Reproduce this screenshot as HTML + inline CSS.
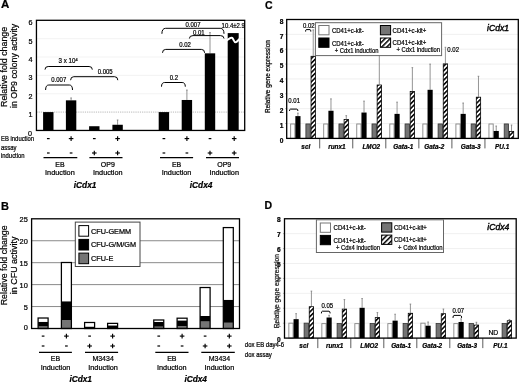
<!DOCTYPE html>
<html><head><meta charset="utf-8"><style>
html,body{margin:0;padding:0;background:#fff;}
svg{display:block;font-family:"Liberation Sans", sans-serif;filter:grayscale(1) blur(0.28px);}
</style></head><body>
<svg width="520" height="385" viewBox="0 0 520 385">
<defs>
<pattern id="hatch" patternUnits="userSpaceOnUse" width="3.3" height="3.3" patternTransform="rotate(45)">
<rect width="3.3" height="3.3" fill="#fff"/><rect width="1.55" height="3.3" fill="#000"/></pattern>
<pattern id="hatch2" patternUnits="userSpaceOnUse" width="3.6" height="3.6" patternTransform="rotate(45)">
<rect width="3.6" height="3.6" fill="#fff"/><rect width="1.5" height="3.6" fill="#000"/></pattern>
</defs>
<rect width="520" height="385" fill="#fff"/>
<text x="1.00" y="8.10" font-size="11.5" text-anchor="start" font-weight="bold" font-style="normal" fill="#000" stroke="#000" stroke-width="0.22" >A</text>
<line x1="36.45" y1="93.73" x2="244.70" y2="93.73" stroke="#f0f0f0" stroke-width="0.8" />
<line x1="36.45" y1="75.38" x2="244.70" y2="75.38" stroke="#f0f0f0" stroke-width="0.8" />
<line x1="36.45" y1="57.02" x2="244.70" y2="57.02" stroke="#f0f0f0" stroke-width="0.8" />
<line x1="36.45" y1="38.66" x2="244.70" y2="38.66" stroke="#f0f0f0" stroke-width="0.8" />
<line x1="36.45" y1="112.09" x2="244.70" y2="112.09" stroke="#999" stroke-width="0.7" stroke-dasharray="1.2,1"/>
<text x="30.10" y="136.05" font-size="7.2" text-anchor="middle" font-weight="normal" font-style="normal" fill="#000" stroke="#000" stroke-width="0.22" >0</text>
<text x="30.50" y="117.09" font-size="7.2" text-anchor="middle" font-weight="normal" font-style="normal" fill="#000" stroke="#000" stroke-width="0.22" >1</text>
<text x="30.50" y="98.73" font-size="7.2" text-anchor="middle" font-weight="normal" font-style="normal" fill="#000" stroke="#000" stroke-width="0.22" >2</text>
<text x="30.50" y="80.38" font-size="7.2" text-anchor="middle" font-weight="normal" font-style="normal" fill="#000" stroke="#000" stroke-width="0.22" >3</text>
<text x="30.50" y="62.02" font-size="7.2" text-anchor="middle" font-weight="normal" font-style="normal" fill="#000" stroke="#000" stroke-width="0.22" >4</text>
<text x="30.50" y="43.66" font-size="7.2" text-anchor="middle" font-weight="normal" font-style="normal" fill="#000" stroke="#000" stroke-width="0.22" >5</text>
<text x="30.50" y="25.30" font-size="7.2" text-anchor="middle" font-weight="normal" font-style="normal" fill="#000" stroke="#000" stroke-width="0.22" >6</text>
<rect x="43.10" y="112.09" width="10.40" height="18.36" fill="#000" stroke="none" stroke-width="0" />
<line x1="71.10" y1="97.96" x2="71.10" y2="100.34" stroke="#777" stroke-width="0.8" />
<line x1="70.30" y1="97.96" x2="71.90" y2="97.96" stroke="#777" stroke-width="0.8" />
<rect x="65.90" y="100.34" width="10.40" height="30.11" fill="#000" stroke="none" stroke-width="0" />
<rect x="89.10" y="126.23" width="10.40" height="4.22" fill="#000" stroke="none" stroke-width="0" />
<line x1="117.60" y1="119.99" x2="117.60" y2="124.76" stroke="#777" stroke-width="0.8" />
<line x1="116.80" y1="119.99" x2="118.40" y2="119.99" stroke="#777" stroke-width="0.8" />
<rect x="112.40" y="124.76" width="10.40" height="5.69" fill="#000" stroke="none" stroke-width="0" />
<rect x="158.70" y="112.09" width="10.40" height="18.36" fill="#000" stroke="none" stroke-width="0" />
<line x1="186.90" y1="90.06" x2="186.90" y2="99.98" stroke="#777" stroke-width="0.8" />
<line x1="186.10" y1="90.06" x2="187.70" y2="90.06" stroke="#777" stroke-width="0.8" />
<rect x="181.70" y="99.98" width="10.40" height="30.47" fill="#000" stroke="none" stroke-width="0" />
<line x1="210.00" y1="32.60" x2="210.00" y2="53.34" stroke="#777" stroke-width="0.8" />
<line x1="209.20" y1="32.60" x2="210.80" y2="32.60" stroke="#777" stroke-width="0.8" />
<rect x="204.80" y="53.34" width="10.40" height="77.10" fill="#000" stroke="none" stroke-width="0" />
<rect x="227.70" y="33.10" width="11.00" height="97.35" fill="#000" stroke="none" stroke-width="0" />
<path d="M226.8,40.6 C229,38.8 230.6,36.8 232.2,37.9 C233.6,38.9 234,42.4 235.6,42.3 C237,42.2 238,40.2 239.7,38.8" stroke="#fff" stroke-width="2.0" fill="none" />
<rect x="36.45" y="20.30" width="208.25" height="110.15" fill="none" stroke="#000" stroke-width="1.3" />
<path d="M45.00,69.60 Q45.00,66.50 48.20,66.50 L89.10,66.50 Q92.30,66.50 92.30,69.60" stroke="#000" stroke-width="1.0" fill="none" />
<text x="58.60" y="62.50" font-size="6.9" text-anchor="start" font-weight="normal" font-style="normal" fill="#000" stroke="#000" stroke-width="0.22"  textLength="19.0" lengthAdjust="spacingAndGlyphs">3 x 10<tspan dy="-1.3" font-size="4.4">4</tspan></text>
<path d="M45.60,90.00 Q45.60,85.00 48.80,85.00 L69.30,85.00 Q72.50,85.00 72.50,90.00" stroke="#000" stroke-width="1.0" fill="none" />
<text x="58.80" y="81.60" font-size="7.2" text-anchor="middle" font-weight="normal" font-style="normal" fill="#000" stroke="#000" stroke-width="0.22"  textLength="15.02" lengthAdjust="spacingAndGlyphs">0.007</text>
<path d="M70.60,80.20 Q70.60,76.70 73.80,76.70 L114.60,76.70 Q117.80,76.70 117.80,80.20" stroke="#000" stroke-width="1.0" fill="none" />
<text x="105.20" y="73.60" font-size="7.2" text-anchor="middle" font-weight="normal" font-style="normal" fill="#000" stroke="#000" stroke-width="0.22"  textLength="15.02" lengthAdjust="spacingAndGlyphs">0.005</text>
<path d="M161.50,86.70 Q161.50,82.50 164.70,82.50 L182.10,82.50 Q185.30,82.50 185.30,86.70" stroke="#000" stroke-width="1.0" fill="none" />
<text x="173.80" y="79.80" font-size="7.2" text-anchor="middle" font-weight="normal" font-style="normal" fill="#000" stroke="#000" stroke-width="0.22"  textLength="8.34" lengthAdjust="spacingAndGlyphs">0.2</text>
<path d="M162.50,52.80 Q162.50,49.40 165.70,49.40 L201.40,49.40 Q204.60,49.40 204.60,52.80" stroke="#000" stroke-width="1.0" fill="none" />
<text x="185.00" y="47.30" font-size="7.2" text-anchor="middle" font-weight="normal" font-style="normal" fill="#000" stroke="#000" stroke-width="0.22"  textLength="11.68" lengthAdjust="spacingAndGlyphs">0.02</text>
<path d="M161.90,33.80 Q161.90,28.30 165.70,28.30 L220.20,28.30 Q224.00,28.30 224.00,33.80" stroke="#000" stroke-width="1.0" fill="none" />
<text x="193.00" y="26.60" font-size="7.2" text-anchor="middle" font-weight="normal" font-style="normal" fill="#000" stroke="#000" stroke-width="0.22"  textLength="15.02" lengthAdjust="spacingAndGlyphs">0.007</text>
<path d="M189.40,38.50 Q189.40,35.60 193.00,35.60 L220.40,35.60 Q224.00,35.60 224.00,38.50" stroke="#000" stroke-width="1.0" fill="none" />
<text x="198.80" y="35.00" font-size="7.2" text-anchor="middle" font-weight="normal" font-style="normal" fill="#000" stroke="#000" stroke-width="0.22"  textLength="11.68" lengthAdjust="spacingAndGlyphs">0.01</text>
<text x="221.60" y="27.60" font-size="6.9" text-anchor="start" font-weight="normal" font-style="normal" fill="#000" stroke="#000" stroke-width="0.22"  textLength="23.31" lengthAdjust="spacingAndGlyphs">10.4±2.9</text>
<text transform="translate(7.10,66.90) rotate(-90)" x="0" y="0" font-size="9.8" text-anchor="middle" font-weight="normal" fill="#000" stroke="#000" stroke-width="0.22"  textLength="80.2" lengthAdjust="spacingAndGlyphs">Relative fold change</text>
<text transform="translate(17.30,65.90) rotate(-90)" x="0" y="0" font-size="9.8" text-anchor="middle" font-weight="normal" fill="#000" stroke="#000" stroke-width="0.22"  textLength="84.2" lengthAdjust="spacingAndGlyphs">in OP9 colony activity</text>
<text x="1.00" y="140.70" font-size="7.08" text-anchor="start" font-weight="normal" font-style="normal" fill="#000" stroke="#000" stroke-width="0.22"  textLength="33.13" lengthAdjust="spacingAndGlyphs">EB induction</text>
<text x="1.00" y="150.30" font-size="7.08" text-anchor="start" font-weight="normal" font-style="normal" fill="#000" stroke="#000" stroke-width="0.22"  textLength="15.41" lengthAdjust="spacingAndGlyphs">assay</text>
<text x="1.00" y="157.60" font-size="7.08" text-anchor="start" font-weight="normal" font-style="normal" fill="#000" stroke="#000" stroke-width="0.22"  textLength="23.62" lengthAdjust="spacingAndGlyphs">induction</text>
<line x1="46.95" y1="138.60" x2="49.65" y2="138.60" stroke="#000" stroke-width="1.2" />
<line x1="46.95" y1="153.00" x2="49.65" y2="153.00" stroke="#000" stroke-width="1.2" />
<line x1="68.80" y1="138.60" x2="73.40" y2="138.60" stroke="#000" stroke-width="1.15" />
<line x1="71.10" y1="136.30" x2="71.10" y2="140.90" stroke="#000" stroke-width="1.15" />
<line x1="69.75" y1="153.00" x2="72.45" y2="153.00" stroke="#000" stroke-width="1.2" />
<line x1="92.95" y1="138.60" x2="95.65" y2="138.60" stroke="#000" stroke-width="1.2" />
<line x1="92.00" y1="153.00" x2="96.60" y2="153.00" stroke="#000" stroke-width="1.15" />
<line x1="94.30" y1="150.70" x2="94.30" y2="155.30" stroke="#000" stroke-width="1.15" />
<line x1="115.30" y1="138.60" x2="119.90" y2="138.60" stroke="#000" stroke-width="1.15" />
<line x1="117.60" y1="136.30" x2="117.60" y2="140.90" stroke="#000" stroke-width="1.15" />
<line x1="115.30" y1="153.00" x2="119.90" y2="153.00" stroke="#000" stroke-width="1.15" />
<line x1="117.60" y1="150.70" x2="117.60" y2="155.30" stroke="#000" stroke-width="1.15" />
<line x1="162.55" y1="138.60" x2="165.25" y2="138.60" stroke="#000" stroke-width="1.2" />
<line x1="162.55" y1="153.00" x2="165.25" y2="153.00" stroke="#000" stroke-width="1.2" />
<line x1="184.60" y1="138.60" x2="189.20" y2="138.60" stroke="#000" stroke-width="1.15" />
<line x1="186.90" y1="136.30" x2="186.90" y2="140.90" stroke="#000" stroke-width="1.15" />
<line x1="185.55" y1="153.00" x2="188.25" y2="153.00" stroke="#000" stroke-width="1.2" />
<line x1="208.65" y1="138.60" x2="211.35" y2="138.60" stroke="#000" stroke-width="1.2" />
<line x1="207.70" y1="153.00" x2="212.30" y2="153.00" stroke="#000" stroke-width="1.15" />
<line x1="210.00" y1="150.70" x2="210.00" y2="155.30" stroke="#000" stroke-width="1.15" />
<line x1="231.90" y1="138.60" x2="236.50" y2="138.60" stroke="#000" stroke-width="1.15" />
<line x1="234.20" y1="136.30" x2="234.20" y2="140.90" stroke="#000" stroke-width="1.15" />
<line x1="231.90" y1="153.00" x2="236.50" y2="153.00" stroke="#000" stroke-width="1.15" />
<line x1="234.20" y1="150.70" x2="234.20" y2="155.30" stroke="#000" stroke-width="1.15" />
<line x1="43.50" y1="157.60" x2="77.30" y2="157.60" stroke="#000" stroke-width="1.25" />
<line x1="89.40" y1="157.60" x2="122.50" y2="157.60" stroke="#000" stroke-width="1.25" />
<line x1="160.00" y1="157.60" x2="193.10" y2="157.60" stroke="#000" stroke-width="1.25" />
<line x1="206.00" y1="157.60" x2="239.00" y2="157.60" stroke="#000" stroke-width="1.25" />
<text x="59.90" y="166.50" font-size="7.28" text-anchor="middle" font-weight="normal" font-style="normal" fill="#000" stroke="#000" stroke-width="0.22"  textLength="9.34" lengthAdjust="spacingAndGlyphs">EB</text>
<text x="59.90" y="175.00" font-size="7.3" text-anchor="middle" font-weight="normal" font-style="normal" fill="#000" stroke="#000" stroke-width="0.22" >Induction</text>
<text x="107.80" y="166.50" font-size="7.28" text-anchor="middle" font-weight="normal" font-style="normal" fill="#000" stroke="#000" stroke-width="0.22"  textLength="14.01" lengthAdjust="spacingAndGlyphs">OP9</text>
<text x="107.80" y="175.00" font-size="7.3" text-anchor="middle" font-weight="normal" font-style="normal" fill="#000" stroke="#000" stroke-width="0.22" >Induction</text>
<text x="176.60" y="166.50" font-size="7.28" text-anchor="middle" font-weight="normal" font-style="normal" fill="#000" stroke="#000" stroke-width="0.22"  textLength="9.34" lengthAdjust="spacingAndGlyphs">EB</text>
<text x="176.60" y="175.00" font-size="7.3" text-anchor="middle" font-weight="normal" font-style="normal" fill="#000" stroke="#000" stroke-width="0.22" >Induction</text>
<text x="224.20" y="166.50" font-size="7.28" text-anchor="middle" font-weight="normal" font-style="normal" fill="#000" stroke="#000" stroke-width="0.22"  textLength="14.01" lengthAdjust="spacingAndGlyphs">OP9</text>
<text x="224.20" y="175.00" font-size="7.3" text-anchor="middle" font-weight="normal" font-style="normal" fill="#000" stroke="#000" stroke-width="0.22" >Induction</text>
<text x="73.80" y="187.50" font-size="8.3" text-anchor="start" font-weight="bold" font-style="italic" fill="#000" stroke="#000" stroke-width="0.22" >iCdx1</text>
<text x="189.80" y="187.50" font-size="8.3" text-anchor="start" font-weight="bold" font-style="italic" fill="#000" stroke="#000" stroke-width="0.22" >iCdx4</text>
<text x="1.00" y="210.00" font-size="11.0" text-anchor="start" font-weight="bold" font-style="normal" fill="#000" stroke="#000" stroke-width="0.22" >B</text>
<line x1="31.60" y1="306.56" x2="239.50" y2="306.56" stroke="#8a8a8a" stroke-width="1.0" />
<line x1="31.60" y1="284.62" x2="239.50" y2="284.62" stroke="#8a8a8a" stroke-width="1.0" />
<line x1="31.60" y1="262.68" x2="239.50" y2="262.68" stroke="#8a8a8a" stroke-width="1.0" />
<line x1="31.60" y1="240.74" x2="239.50" y2="240.74" stroke="#8a8a8a" stroke-width="1.0" />
<text x="27.80" y="330.05" font-size="7.4" text-anchor="end" font-weight="normal" font-style="normal" fill="#000" stroke="#000" stroke-width="0.22" >0</text>
<text x="27.80" y="309.65" font-size="7.4" text-anchor="end" font-weight="normal" font-style="normal" fill="#000" stroke="#000" stroke-width="0.22" >5</text>
<text x="27.80" y="287.65" font-size="7.4" text-anchor="end" font-weight="normal" font-style="normal" fill="#000" stroke="#000" stroke-width="0.22" >10</text>
<text x="27.80" y="265.65" font-size="7.4" text-anchor="end" font-weight="normal" font-style="normal" fill="#000" stroke="#000" stroke-width="0.22" >15</text>
<text x="27.80" y="243.65" font-size="7.4" text-anchor="end" font-weight="normal" font-style="normal" fill="#000" stroke="#000" stroke-width="0.22" >20</text>
<text x="27.80" y="222.25" font-size="7.4" text-anchor="end" font-weight="normal" font-style="normal" fill="#000" stroke="#000" stroke-width="0.22" >25</text>
<rect x="38.10" y="326.39" width="10.00" height="2.11" fill="#747474" stroke="none" stroke-width="0" />
<rect x="38.10" y="321.79" width="10.00" height="4.61" fill="#000" stroke="none" stroke-width="0" />
<rect x="38.10" y="318.01" width="10.00" height="3.77" fill="#fff" stroke="none" stroke-width="0" />
<rect x="38.10" y="318.01" width="10.00" height="10.49" fill="none" stroke="#000" stroke-width="1.25" />
<rect x="61.40" y="320.12" width="10.00" height="8.38" fill="#747474" stroke="none" stroke-width="0" />
<rect x="61.40" y="301.25" width="10.00" height="18.87" fill="#000" stroke="none" stroke-width="0" />
<rect x="61.40" y="262.50" width="10.00" height="38.75" fill="#fff" stroke="none" stroke-width="0" />
<rect x="61.40" y="262.50" width="10.00" height="66.00" fill="none" stroke="#000" stroke-width="1.25" />
<rect x="84.60" y="326.53" width="10.00" height="1.97" fill="#000" stroke="none" stroke-width="0" />
<rect x="84.60" y="322.49" width="10.00" height="4.04" fill="#fff" stroke="none" stroke-width="0" />
<rect x="84.60" y="322.49" width="10.00" height="6.01" fill="none" stroke="#000" stroke-width="1.25" />
<rect x="107.60" y="325.34" width="10.00" height="3.16" fill="#000" stroke="none" stroke-width="0" />
<rect x="107.60" y="323.37" width="10.00" height="1.97" fill="#fff" stroke="none" stroke-width="0" />
<rect x="107.60" y="323.37" width="10.00" height="5.13" fill="none" stroke="#000" stroke-width="1.25" />
<rect x="153.75" y="326.66" width="10.00" height="1.84" fill="#747474" stroke="none" stroke-width="0" />
<rect x="153.75" y="321.92" width="10.00" height="4.74" fill="#000" stroke="none" stroke-width="0" />
<rect x="153.75" y="319.99" width="10.00" height="1.93" fill="#fff" stroke="none" stroke-width="0" />
<rect x="153.75" y="319.99" width="10.00" height="8.51" fill="none" stroke="#000" stroke-width="1.25" />
<rect x="177.10" y="326.09" width="10.00" height="2.41" fill="#747474" stroke="none" stroke-width="0" />
<rect x="177.10" y="320.38" width="10.00" height="5.70" fill="#000" stroke="none" stroke-width="0" />
<rect x="177.10" y="318.19" width="10.00" height="2.19" fill="#fff" stroke="none" stroke-width="0" />
<rect x="177.10" y="318.19" width="10.00" height="10.31" fill="none" stroke="#000" stroke-width="1.25" />
<rect x="200.10" y="321.48" width="10.00" height="7.02" fill="#747474" stroke="none" stroke-width="0" />
<rect x="200.10" y="315.99" width="10.00" height="5.49" fill="#000" stroke="none" stroke-width="0" />
<rect x="200.10" y="287.52" width="10.00" height="28.48" fill="#fff" stroke="none" stroke-width="0" />
<rect x="200.10" y="287.52" width="10.00" height="40.98" fill="none" stroke="#000" stroke-width="1.25" />
<rect x="223.30" y="322.75" width="10.00" height="5.75" fill="#747474" stroke="none" stroke-width="0" />
<rect x="223.30" y="299.76" width="10.00" height="22.99" fill="#000" stroke="none" stroke-width="0" />
<rect x="223.30" y="227.58" width="10.00" height="72.18" fill="#fff" stroke="none" stroke-width="0" />
<rect x="223.30" y="227.58" width="10.00" height="100.92" fill="none" stroke="#000" stroke-width="1.25" />
<rect x="31.60" y="218.80" width="207.90" height="109.70" fill="none" stroke="#000" stroke-width="1.3" />
<rect x="75.30" y="222.10" width="64.70" height="44.40" fill="#fff" stroke="#444" stroke-width="1.0" />
<rect x="78.90" y="225.60" width="9.70" height="10.60" fill="#fff" stroke="#000" stroke-width="1.0" />
<text x="91.00" y="233.80" font-size="7.3" text-anchor="start" font-weight="normal" font-style="normal" fill="#000" stroke="#000" stroke-width="0.22" >CFU-GEMM</text>
<rect x="78.90" y="239.40" width="9.70" height="10.60" fill="#000" stroke="#000" stroke-width="1.0" />
<text x="91.00" y="247.30" font-size="7.3" text-anchor="start" font-weight="normal" font-style="normal" fill="#000" stroke="#000" stroke-width="0.22" >CFU-G/M/GM</text>
<rect x="78.90" y="253.10" width="9.70" height="10.60" fill="#747474" stroke="#000" stroke-width="1.0" />
<text x="91.00" y="260.80" font-size="7.3" text-anchor="start" font-weight="normal" font-style="normal" fill="#000" stroke="#000" stroke-width="0.22" >CFU-E</text>
<text transform="translate(7.10,265.30) rotate(-90)" x="0" y="0" font-size="9.8" text-anchor="middle" font-weight="normal" fill="#000" stroke="#000" stroke-width="0.22"  textLength="80.0" lengthAdjust="spacingAndGlyphs">Relative fold change</text>
<text transform="translate(17.20,265.40) rotate(-90)" x="0" y="0" font-size="9.8" text-anchor="middle" font-weight="normal" fill="#000" stroke="#000" stroke-width="0.22"  textLength="57.6" lengthAdjust="spacingAndGlyphs">in CFU activity</text>
<line x1="41.75" y1="336.10" x2="44.45" y2="336.10" stroke="#000" stroke-width="1.2" />
<line x1="41.75" y1="346.00" x2="44.45" y2="346.00" stroke="#000" stroke-width="1.2" />
<line x1="64.10" y1="336.10" x2="68.70" y2="336.10" stroke="#000" stroke-width="1.15" />
<line x1="66.40" y1="333.80" x2="66.40" y2="338.40" stroke="#000" stroke-width="1.15" />
<line x1="65.05" y1="346.00" x2="67.75" y2="346.00" stroke="#000" stroke-width="1.2" />
<line x1="88.25" y1="336.10" x2="90.95" y2="336.10" stroke="#000" stroke-width="1.2" />
<line x1="87.30" y1="346.00" x2="91.90" y2="346.00" stroke="#000" stroke-width="1.15" />
<line x1="89.60" y1="343.70" x2="89.60" y2="348.30" stroke="#000" stroke-width="1.15" />
<line x1="110.30" y1="336.10" x2="114.90" y2="336.10" stroke="#000" stroke-width="1.15" />
<line x1="112.60" y1="333.80" x2="112.60" y2="338.40" stroke="#000" stroke-width="1.15" />
<line x1="110.30" y1="346.00" x2="114.90" y2="346.00" stroke="#000" stroke-width="1.15" />
<line x1="112.60" y1="343.70" x2="112.60" y2="348.30" stroke="#000" stroke-width="1.15" />
<line x1="157.40" y1="336.10" x2="160.10" y2="336.10" stroke="#000" stroke-width="1.2" />
<line x1="157.40" y1="346.00" x2="160.10" y2="346.00" stroke="#000" stroke-width="1.2" />
<line x1="179.80" y1="336.10" x2="184.40" y2="336.10" stroke="#000" stroke-width="1.15" />
<line x1="182.10" y1="333.80" x2="182.10" y2="338.40" stroke="#000" stroke-width="1.15" />
<line x1="180.75" y1="346.00" x2="183.45" y2="346.00" stroke="#000" stroke-width="1.2" />
<line x1="203.75" y1="336.10" x2="206.45" y2="336.10" stroke="#000" stroke-width="1.2" />
<line x1="202.80" y1="346.00" x2="207.40" y2="346.00" stroke="#000" stroke-width="1.15" />
<line x1="205.10" y1="343.70" x2="205.10" y2="348.30" stroke="#000" stroke-width="1.15" />
<line x1="227.00" y1="336.10" x2="231.60" y2="336.10" stroke="#000" stroke-width="1.15" />
<line x1="229.30" y1="333.80" x2="229.30" y2="338.40" stroke="#000" stroke-width="1.15" />
<line x1="227.00" y1="346.00" x2="231.60" y2="346.00" stroke="#000" stroke-width="1.15" />
<line x1="229.30" y1="343.70" x2="229.30" y2="348.30" stroke="#000" stroke-width="1.15" />
<line x1="39.00" y1="352.40" x2="71.90" y2="352.40" stroke="#000" stroke-width="1.2" />
<line x1="85.00" y1="352.40" x2="118.10" y2="352.40" stroke="#000" stroke-width="1.2" />
<line x1="155.30" y1="352.40" x2="188.50" y2="352.40" stroke="#000" stroke-width="1.2" />
<line x1="201.30" y1="352.40" x2="234.80" y2="352.40" stroke="#000" stroke-width="1.2" />
<text x="55.50" y="361.10" font-size="7.42" text-anchor="middle" font-weight="normal" font-style="normal" fill="#000" stroke="#000" stroke-width="0.22"  textLength="9.34" lengthAdjust="spacingAndGlyphs">EB</text>
<text x="55.50" y="369.90" font-size="7.3" text-anchor="middle" font-weight="normal" font-style="normal" fill="#000" stroke="#000" stroke-width="0.22" >Induction</text>
<text x="103.10" y="361.10" font-size="7.42" text-anchor="middle" font-weight="normal" font-style="normal" fill="#000" stroke="#000" stroke-width="0.22"  textLength="21.4" lengthAdjust="spacingAndGlyphs">M3434</text>
<text x="103.10" y="369.90" font-size="7.3" text-anchor="middle" font-weight="normal" font-style="normal" fill="#000" stroke="#000" stroke-width="0.22" >Induction</text>
<text x="171.80" y="361.10" font-size="7.42" text-anchor="middle" font-weight="normal" font-style="normal" fill="#000" stroke="#000" stroke-width="0.22"  textLength="9.34" lengthAdjust="spacingAndGlyphs">EB</text>
<text x="171.80" y="369.90" font-size="7.3" text-anchor="middle" font-weight="normal" font-style="normal" fill="#000" stroke="#000" stroke-width="0.22" >Induction</text>
<text x="219.40" y="361.10" font-size="7.42" text-anchor="middle" font-weight="normal" font-style="normal" fill="#000" stroke="#000" stroke-width="0.22"  textLength="21.4" lengthAdjust="spacingAndGlyphs">M3434</text>
<text x="219.40" y="369.90" font-size="7.3" text-anchor="middle" font-weight="normal" font-style="normal" fill="#000" stroke="#000" stroke-width="0.22" >Induction</text>
<text x="69.40" y="382.40" font-size="8.3" text-anchor="start" font-weight="bold" font-style="italic" fill="#000" stroke="#000" stroke-width="0.22" >iCdx1</text>
<text x="184.40" y="382.40" font-size="8.3" text-anchor="start" font-weight="bold" font-style="italic" fill="#000" stroke="#000" stroke-width="0.22" >iCdx4</text>
<text x="244.80" y="346.90" font-size="6.72" text-anchor="start" font-weight="normal" font-style="normal" fill="#000" stroke="#000" stroke-width="0.22"  textLength="39.36" lengthAdjust="spacingAndGlyphs">dox EB day4-6</text>
<text x="244.80" y="357.40" font-size="6.72" text-anchor="start" font-weight="normal" font-style="normal" fill="#000" stroke="#000" stroke-width="0.22"  textLength="27.02" lengthAdjust="spacingAndGlyphs">dox assay</text>
<text x="265.00" y="9.00" font-size="10.5" text-anchor="start" font-weight="bold" font-style="normal" fill="#000" stroke="#000" stroke-width="0.22" >C</text>
<line x1="286.70" y1="123.54" x2="518.30" y2="123.54" stroke="#ececec" stroke-width="0.8" />
<line x1="285.10" y1="123.54" x2="286.70" y2="123.54" stroke="#999" stroke-width="0.7" />
<line x1="286.70" y1="108.68" x2="518.30" y2="108.68" stroke="#ececec" stroke-width="0.8" />
<line x1="285.10" y1="108.68" x2="286.70" y2="108.68" stroke="#999" stroke-width="0.7" />
<line x1="286.70" y1="93.81" x2="518.30" y2="93.81" stroke="#ececec" stroke-width="0.8" />
<line x1="285.10" y1="93.81" x2="286.70" y2="93.81" stroke="#999" stroke-width="0.7" />
<line x1="286.70" y1="78.95" x2="518.30" y2="78.95" stroke="#ececec" stroke-width="0.8" />
<line x1="285.10" y1="78.95" x2="286.70" y2="78.95" stroke="#999" stroke-width="0.7" />
<line x1="286.70" y1="64.09" x2="518.30" y2="64.09" stroke="#ececec" stroke-width="0.8" />
<line x1="285.10" y1="64.09" x2="286.70" y2="64.09" stroke="#999" stroke-width="0.7" />
<line x1="286.70" y1="49.22" x2="518.30" y2="49.22" stroke="#ececec" stroke-width="0.8" />
<line x1="285.10" y1="49.22" x2="286.70" y2="49.22" stroke="#999" stroke-width="0.7" />
<line x1="286.70" y1="34.36" x2="518.30" y2="34.36" stroke="#ececec" stroke-width="0.8" />
<line x1="285.10" y1="34.36" x2="286.70" y2="34.36" stroke="#999" stroke-width="0.7" />
<rect x="290.65" y="123.99" width="4.25" height="14.41" fill="#fff" stroke="#858585" stroke-width="0.9" />
<line x1="297.92" y1="113.13" x2="297.92" y2="116.11" stroke="#7a7a7a" stroke-width="0.8" />
<line x1="297.12" y1="113.13" x2="298.72" y2="113.13" stroke="#7a7a7a" stroke-width="0.8" />
<rect x="295.35" y="116.11" width="5.15" height="22.29" fill="#000" stroke="none" stroke-width="0" />
<rect x="305.90" y="123.94" width="4.35" height="14.46" fill="#747474" stroke="#333" stroke-width="0.8" />
<line x1="313.22" y1="29.90" x2="313.22" y2="55.91" stroke="#7a7a7a" stroke-width="0.8" />
<line x1="312.42" y1="29.90" x2="314.02" y2="29.90" stroke="#7a7a7a" stroke-width="0.8" />
<rect x="311.05" y="56.31" width="4.35" height="82.09" fill="url(#hatch)" stroke="#000" stroke-width="0.8" />
<rect x="323.70" y="123.99" width="4.25" height="14.41" fill="#fff" stroke="#858585" stroke-width="0.9" />
<line x1="330.97" y1="98.87" x2="330.97" y2="110.76" stroke="#7a7a7a" stroke-width="0.8" />
<line x1="330.17" y1="98.87" x2="331.77" y2="98.87" stroke="#7a7a7a" stroke-width="0.8" />
<rect x="328.40" y="110.76" width="5.15" height="27.64" fill="#000" stroke="none" stroke-width="0" />
<rect x="338.95" y="123.94" width="4.35" height="14.46" fill="#747474" stroke="#333" stroke-width="0.8" />
<line x1="346.27" y1="115.66" x2="346.27" y2="119.08" stroke="#7a7a7a" stroke-width="0.8" />
<line x1="345.47" y1="115.66" x2="347.07" y2="115.66" stroke="#7a7a7a" stroke-width="0.8" />
<rect x="344.10" y="119.48" width="4.35" height="18.92" fill="url(#hatch)" stroke="#000" stroke-width="0.8" />
<rect x="356.75" y="123.99" width="4.25" height="14.41" fill="#fff" stroke="#858585" stroke-width="0.9" />
<line x1="364.02" y1="101.10" x2="364.02" y2="112.54" stroke="#7a7a7a" stroke-width="0.8" />
<line x1="363.22" y1="101.10" x2="364.82" y2="101.10" stroke="#7a7a7a" stroke-width="0.8" />
<rect x="361.45" y="112.54" width="5.15" height="25.86" fill="#000" stroke="none" stroke-width="0" />
<rect x="372.00" y="123.94" width="4.35" height="14.46" fill="#747474" stroke="#333" stroke-width="0.8" />
<line x1="379.32" y1="55.47" x2="379.32" y2="84.60" stroke="#7a7a7a" stroke-width="0.8" />
<line x1="378.52" y1="55.47" x2="380.12" y2="55.47" stroke="#7a7a7a" stroke-width="0.8" />
<rect x="377.15" y="85.00" width="4.35" height="53.40" fill="url(#hatch)" stroke="#000" stroke-width="0.8" />
<rect x="389.80" y="123.99" width="4.25" height="14.41" fill="#fff" stroke="#858585" stroke-width="0.9" />
<line x1="397.07" y1="102.14" x2="397.07" y2="113.88" stroke="#7a7a7a" stroke-width="0.8" />
<line x1="396.27" y1="102.14" x2="397.87" y2="102.14" stroke="#7a7a7a" stroke-width="0.8" />
<rect x="394.50" y="113.88" width="5.15" height="24.52" fill="#000" stroke="none" stroke-width="0" />
<rect x="405.05" y="123.94" width="4.35" height="14.46" fill="#747474" stroke="#333" stroke-width="0.8" />
<line x1="412.37" y1="67.65" x2="412.37" y2="91.14" stroke="#7a7a7a" stroke-width="0.8" />
<line x1="411.57" y1="67.65" x2="413.17" y2="67.65" stroke="#7a7a7a" stroke-width="0.8" />
<rect x="410.20" y="91.54" width="4.35" height="46.86" fill="url(#hatch)" stroke="#000" stroke-width="0.8" />
<rect x="422.85" y="123.99" width="4.25" height="14.41" fill="#fff" stroke="#858585" stroke-width="0.9" />
<line x1="430.12" y1="64.09" x2="430.12" y2="89.80" stroke="#7a7a7a" stroke-width="0.8" />
<line x1="429.32" y1="64.09" x2="430.92" y2="64.09" stroke="#7a7a7a" stroke-width="0.8" />
<rect x="427.55" y="89.80" width="5.15" height="48.60" fill="#000" stroke="none" stroke-width="0" />
<rect x="438.10" y="123.94" width="4.35" height="14.46" fill="#747474" stroke="#333" stroke-width="0.8" />
<line x1="445.42" y1="47.29" x2="445.42" y2="63.49" stroke="#7a7a7a" stroke-width="0.8" />
<line x1="444.62" y1="47.29" x2="446.22" y2="47.29" stroke="#7a7a7a" stroke-width="0.8" />
<rect x="443.25" y="63.89" width="4.35" height="74.51" fill="url(#hatch)" stroke="#000" stroke-width="0.8" />
<rect x="455.90" y="123.99" width="4.25" height="14.41" fill="#fff" stroke="#858585" stroke-width="0.9" />
<line x1="463.17" y1="103.03" x2="463.17" y2="113.88" stroke="#7a7a7a" stroke-width="0.8" />
<line x1="462.37" y1="103.03" x2="463.97" y2="103.03" stroke="#7a7a7a" stroke-width="0.8" />
<rect x="460.60" y="113.88" width="5.15" height="24.52" fill="#000" stroke="none" stroke-width="0" />
<rect x="471.15" y="123.94" width="4.35" height="14.46" fill="#747474" stroke="#333" stroke-width="0.8" />
<line x1="478.47" y1="76.27" x2="478.47" y2="96.78" stroke="#7a7a7a" stroke-width="0.8" />
<line x1="477.67" y1="76.27" x2="479.27" y2="76.27" stroke="#7a7a7a" stroke-width="0.8" />
<rect x="476.30" y="97.19" width="4.35" height="41.22" fill="url(#hatch)" stroke="#000" stroke-width="0.8" />
<rect x="488.95" y="123.99" width="4.25" height="14.41" fill="#fff" stroke="#858585" stroke-width="0.9" />
<line x1="496.22" y1="126.06" x2="496.22" y2="130.97" stroke="#7a7a7a" stroke-width="0.8" />
<line x1="495.42" y1="126.06" x2="497.02" y2="126.06" stroke="#7a7a7a" stroke-width="0.8" />
<rect x="493.65" y="130.97" width="5.15" height="7.43" fill="#000" stroke="none" stroke-width="0" />
<rect x="504.20" y="123.94" width="4.35" height="14.46" fill="#747474" stroke="#333" stroke-width="0.8" />
<line x1="511.52" y1="125.02" x2="511.52" y2="130.97" stroke="#7a7a7a" stroke-width="0.8" />
<line x1="510.72" y1="125.02" x2="512.32" y2="125.02" stroke="#7a7a7a" stroke-width="0.8" />
<rect x="509.35" y="131.37" width="4.35" height="7.03" fill="url(#hatch)" stroke="#000" stroke-width="0.8" />
<line x1="319.70" y1="138.40" x2="319.70" y2="148.40" stroke="#333" stroke-width="0.8" />
<line x1="352.75" y1="138.40" x2="352.75" y2="148.40" stroke="#333" stroke-width="0.8" />
<line x1="385.80" y1="138.40" x2="385.80" y2="148.40" stroke="#333" stroke-width="0.8" />
<line x1="418.85" y1="138.40" x2="418.85" y2="148.40" stroke="#333" stroke-width="0.8" />
<line x1="451.90" y1="138.40" x2="451.90" y2="148.40" stroke="#333" stroke-width="0.8" />
<line x1="484.95" y1="138.40" x2="484.95" y2="148.40" stroke="#333" stroke-width="0.8" />
<rect x="286.70" y="19.50" width="231.60" height="118.90" fill="none" stroke="#000" stroke-width="1.3" />
<text x="281.50" y="142.60" font-size="6.6" text-anchor="middle" font-weight="bold" font-style="normal" fill="#000" stroke="#000" stroke-width="0.22" >0</text>
<text x="281.50" y="127.74" font-size="6.6" text-anchor="middle" font-weight="bold" font-style="normal" fill="#000" stroke="#000" stroke-width="0.22" >1</text>
<text x="281.50" y="112.88" font-size="6.6" text-anchor="middle" font-weight="bold" font-style="normal" fill="#000" stroke="#000" stroke-width="0.22" >2</text>
<text x="281.50" y="98.01" font-size="6.6" text-anchor="middle" font-weight="bold" font-style="normal" fill="#000" stroke="#000" stroke-width="0.22" >3</text>
<text x="281.50" y="83.15" font-size="6.6" text-anchor="middle" font-weight="bold" font-style="normal" fill="#000" stroke="#000" stroke-width="0.22" >4</text>
<text x="281.50" y="68.29" font-size="6.6" text-anchor="middle" font-weight="bold" font-style="normal" fill="#000" stroke="#000" stroke-width="0.22" >5</text>
<text x="281.50" y="53.42" font-size="6.6" text-anchor="middle" font-weight="bold" font-style="normal" fill="#000" stroke="#000" stroke-width="0.22" >6</text>
<text x="281.50" y="38.56" font-size="6.6" text-anchor="middle" font-weight="bold" font-style="normal" fill="#000" stroke="#000" stroke-width="0.22" >7</text>
<text x="281.50" y="23.70" font-size="6.6" text-anchor="middle" font-weight="bold" font-style="normal" fill="#000" stroke="#000" stroke-width="0.22" >8</text>
<rect x="315.40" y="22.70" width="126.20" height="32.90" fill="#fff" stroke="#666" stroke-width="1.0" />
<rect x="318.80" y="25.50" width="10.20" height="9.30" fill="#fff" stroke="#777" stroke-width="1.0" />
<rect x="318.80" y="38.00" width="10.20" height="9.30" fill="#000" stroke="#000" stroke-width="1.0" />
<rect x="380.40" y="25.50" width="10.20" height="9.30" fill="#747474" stroke="#000" stroke-width="1.0" />
<rect x="380.40" y="38.00" width="10.20" height="9.30" fill="url(#hatch2)" stroke="#000" stroke-width="1.0" />
<text x="331.90" y="32.90" font-size="7.13" text-anchor="start" font-weight="normal" font-style="normal" fill="#000" stroke="#000" stroke-width="0.22"  textLength="31.8" lengthAdjust="spacingAndGlyphs">CD41+c-kit-</text>
<text x="331.90" y="45.50" font-size="7.13" text-anchor="start" font-weight="normal" font-style="normal" fill="#000" stroke="#000" stroke-width="0.22"  textLength="31.8" lengthAdjust="spacingAndGlyphs">CD41+c-kit-</text>
<text x="334.80" y="52.90" font-size="7.13" text-anchor="start" font-weight="normal" font-style="normal" fill="#000" stroke="#000" stroke-width="0.22"  textLength="43.6" lengthAdjust="spacingAndGlyphs">+ Cdx1 induction</text>
<text x="392.50" y="32.90" font-size="7.13" text-anchor="start" font-weight="normal" font-style="normal" fill="#000" stroke="#000" stroke-width="0.22"  textLength="33.8" lengthAdjust="spacingAndGlyphs">CD41+c-kit+</text>
<text x="392.50" y="44.80" font-size="7.13" text-anchor="start" font-weight="normal" font-style="normal" fill="#000" stroke="#000" stroke-width="0.22"  textLength="33.8" lengthAdjust="spacingAndGlyphs">CD41+c-kit+</text>
<text x="396.50" y="52.10" font-size="7.13" text-anchor="start" font-weight="normal" font-style="normal" fill="#000" stroke="#000" stroke-width="0.22"  textLength="43.6" lengthAdjust="spacingAndGlyphs">+ Cdx1 induction</text>
<text x="487.10" y="30.60" font-size="8.6" text-anchor="start" font-weight="normal" font-style="italic" fill="#000" stroke="#000" stroke-width="0.4" >iCdx1</text>
<text x="305.80" y="149.10" font-size="6.4" text-anchor="middle" font-weight="bold" font-style="italic" fill="#000" stroke="#000" stroke-width="0.22" >scl</text>
<text x="336.90" y="149.10" font-size="6.4" text-anchor="middle" font-weight="bold" font-style="italic" fill="#000" stroke="#000" stroke-width="0.22" >runx1</text>
<text x="371.30" y="149.10" font-size="6.4" text-anchor="middle" font-weight="bold" font-style="italic" fill="#000" stroke="#000" stroke-width="0.22" >LMO2</text>
<text x="403.30" y="149.10" font-size="6.4" text-anchor="middle" font-weight="bold" font-style="italic" fill="#000" stroke="#000" stroke-width="0.22" >Gata-1</text>
<text x="434.30" y="149.10" font-size="6.4" text-anchor="middle" font-weight="bold" font-style="italic" fill="#000" stroke="#000" stroke-width="0.22" >Gata-2</text>
<text x="470.70" y="149.10" font-size="6.4" text-anchor="middle" font-weight="bold" font-style="italic" fill="#000" stroke="#000" stroke-width="0.22" >Gata-3</text>
<text x="502.10" y="149.10" font-size="6.4" text-anchor="middle" font-weight="bold" font-style="italic" fill="#000" stroke="#000" stroke-width="0.22" >PU.1</text>
<text transform="translate(269.70,76.50) rotate(-90)" x="0" y="0" font-size="6.5" text-anchor="middle" font-weight="normal" fill="#000" stroke="#000" stroke-width="0.22" >Relative gene expression</text>
<text x="308.80" y="27.90" font-size="7.2" text-anchor="middle" font-weight="normal" font-style="normal" fill="#000" stroke="#000" stroke-width="0.22"  textLength="11.68" lengthAdjust="spacingAndGlyphs">0.02</text>
<path d="M305.60,31.60 Q305.60,29.60 306.20,29.60 L310.20,29.60 Q310.80,29.60 310.80,31.60" stroke="#000" stroke-width="1.0" fill="none" />
<text x="294.20" y="103.10" font-size="7.2" text-anchor="middle" font-weight="normal" font-style="normal" fill="#000" stroke="#000" stroke-width="0.22"  textLength="11.68" lengthAdjust="spacingAndGlyphs">0.01</text>
<path d="M289.50,111.00 Q289.50,109.10 290.50,109.10 L296.90,109.10 Q297.90,109.10 297.90,111.00" stroke="#000" stroke-width="1.0" fill="none" />
<text x="447.30" y="51.70" font-size="7.2" text-anchor="start" font-weight="normal" font-style="normal" fill="#000" stroke="#000" stroke-width="0.22"  textLength="11.68" lengthAdjust="spacingAndGlyphs">0.02</text>
<text x="264.60" y="209.30" font-size="10.5" text-anchor="start" font-weight="bold" font-style="normal" fill="#000" stroke="#000" stroke-width="0.22" >D</text>
<line x1="284.50" y1="323.18" x2="516.20" y2="323.18" stroke="#ececec" stroke-width="0.8" />
<line x1="282.90" y1="323.18" x2="284.50" y2="323.18" stroke="#999" stroke-width="0.7" />
<line x1="284.50" y1="308.26" x2="516.20" y2="308.26" stroke="#ececec" stroke-width="0.8" />
<line x1="282.90" y1="308.26" x2="284.50" y2="308.26" stroke="#999" stroke-width="0.7" />
<line x1="284.50" y1="293.34" x2="516.20" y2="293.34" stroke="#ececec" stroke-width="0.8" />
<line x1="282.90" y1="293.34" x2="284.50" y2="293.34" stroke="#999" stroke-width="0.7" />
<line x1="284.50" y1="278.43" x2="516.20" y2="278.43" stroke="#ececec" stroke-width="0.8" />
<line x1="282.90" y1="278.43" x2="284.50" y2="278.43" stroke="#999" stroke-width="0.7" />
<line x1="284.50" y1="263.51" x2="516.20" y2="263.51" stroke="#ececec" stroke-width="0.8" />
<line x1="282.90" y1="263.51" x2="284.50" y2="263.51" stroke="#999" stroke-width="0.7" />
<line x1="284.50" y1="248.59" x2="516.20" y2="248.59" stroke="#ececec" stroke-width="0.8" />
<line x1="282.90" y1="248.59" x2="284.50" y2="248.59" stroke="#999" stroke-width="0.7" />
<line x1="284.50" y1="233.67" x2="516.20" y2="233.67" stroke="#ececec" stroke-width="0.8" />
<line x1="282.90" y1="233.67" x2="284.50" y2="233.67" stroke="#999" stroke-width="0.7" />
<rect x="288.85" y="323.18" width="4.25" height="14.92" fill="#fff" stroke="#858585" stroke-width="0.9" />
<line x1="296.12" y1="313.63" x2="296.12" y2="319.15" stroke="#7a7a7a" stroke-width="0.8" />
<line x1="295.32" y1="313.63" x2="296.92" y2="313.63" stroke="#7a7a7a" stroke-width="0.8" />
<rect x="293.55" y="319.15" width="5.15" height="18.95" fill="#000" stroke="none" stroke-width="0" />
<rect x="304.10" y="323.13" width="4.35" height="14.97" fill="#747474" stroke="#333" stroke-width="0.8" />
<line x1="311.42" y1="291.11" x2="311.42" y2="306.32" stroke="#7a7a7a" stroke-width="0.8" />
<line x1="310.62" y1="291.11" x2="312.22" y2="291.11" stroke="#7a7a7a" stroke-width="0.8" />
<rect x="309.25" y="306.72" width="4.35" height="31.38" fill="url(#hatch)" stroke="#000" stroke-width="0.8" />
<rect x="321.85" y="323.63" width="4.25" height="14.47" fill="#fff" stroke="#858585" stroke-width="0.9" />
<line x1="329.12" y1="315.27" x2="329.12" y2="317.51" stroke="#7a7a7a" stroke-width="0.8" />
<line x1="328.32" y1="315.27" x2="329.92" y2="315.27" stroke="#7a7a7a" stroke-width="0.8" />
<rect x="326.55" y="317.51" width="5.15" height="20.59" fill="#000" stroke="none" stroke-width="0" />
<rect x="337.10" y="323.58" width="4.35" height="14.52" fill="#747474" stroke="#333" stroke-width="0.8" />
<line x1="344.42" y1="299.61" x2="344.42" y2="308.71" stroke="#7a7a7a" stroke-width="0.8" />
<line x1="343.62" y1="299.61" x2="345.22" y2="299.61" stroke="#7a7a7a" stroke-width="0.8" />
<rect x="342.25" y="309.11" width="4.35" height="28.99" fill="url(#hatch)" stroke="#000" stroke-width="0.8" />
<rect x="354.85" y="323.63" width="4.25" height="14.47" fill="#fff" stroke="#858585" stroke-width="0.9" />
<line x1="362.12" y1="298.57" x2="362.12" y2="307.81" stroke="#7a7a7a" stroke-width="0.8" />
<line x1="361.32" y1="298.57" x2="362.92" y2="298.57" stroke="#7a7a7a" stroke-width="0.8" />
<rect x="359.55" y="307.81" width="5.15" height="30.29" fill="#000" stroke="none" stroke-width="0" />
<rect x="370.10" y="323.58" width="4.35" height="14.52" fill="#747474" stroke="#333" stroke-width="0.8" />
<line x1="377.42" y1="312.59" x2="377.42" y2="317.21" stroke="#7a7a7a" stroke-width="0.8" />
<line x1="376.62" y1="312.59" x2="378.22" y2="312.59" stroke="#7a7a7a" stroke-width="0.8" />
<rect x="375.25" y="317.61" width="4.35" height="20.49" fill="url(#hatch)" stroke="#000" stroke-width="0.8" />
<rect x="387.85" y="323.63" width="4.25" height="14.47" fill="#fff" stroke="#858585" stroke-width="0.9" />
<line x1="395.12" y1="314.23" x2="395.12" y2="320.65" stroke="#7a7a7a" stroke-width="0.8" />
<line x1="394.32" y1="314.23" x2="395.92" y2="314.23" stroke="#7a7a7a" stroke-width="0.8" />
<rect x="392.55" y="320.65" width="5.15" height="17.45" fill="#000" stroke="none" stroke-width="0" />
<rect x="403.10" y="323.58" width="4.35" height="14.52" fill="#747474" stroke="#333" stroke-width="0.8" />
<line x1="410.42" y1="304.09" x2="410.42" y2="312.89" stroke="#7a7a7a" stroke-width="0.8" />
<line x1="409.62" y1="304.09" x2="411.22" y2="304.09" stroke="#7a7a7a" stroke-width="0.8" />
<rect x="408.25" y="313.29" width="4.35" height="24.81" fill="url(#hatch)" stroke="#000" stroke-width="0.8" />
<rect x="420.85" y="323.18" width="4.25" height="14.92" fill="#fff" stroke="#858585" stroke-width="0.9" />
<line x1="428.12" y1="321.99" x2="428.12" y2="325.72" stroke="#7a7a7a" stroke-width="0.8" />
<line x1="427.32" y1="321.99" x2="428.92" y2="321.99" stroke="#7a7a7a" stroke-width="0.8" />
<rect x="425.55" y="325.72" width="5.15" height="12.38" fill="#000" stroke="none" stroke-width="0" />
<rect x="436.10" y="323.58" width="4.35" height="14.52" fill="#747474" stroke="#333" stroke-width="0.8" />
<line x1="443.42" y1="309.01" x2="443.42" y2="313.33" stroke="#7a7a7a" stroke-width="0.8" />
<line x1="442.62" y1="309.01" x2="444.22" y2="309.01" stroke="#7a7a7a" stroke-width="0.8" />
<rect x="441.25" y="313.73" width="4.35" height="24.37" fill="url(#hatch)" stroke="#000" stroke-width="0.8" />
<rect x="453.85" y="323.63" width="4.25" height="14.47" fill="#fff" stroke="#858585" stroke-width="0.9" />
<line x1="461.12" y1="318.85" x2="461.12" y2="321.99" stroke="#7a7a7a" stroke-width="0.8" />
<line x1="460.32" y1="318.85" x2="461.92" y2="318.85" stroke="#7a7a7a" stroke-width="0.8" />
<rect x="458.55" y="321.99" width="5.15" height="16.11" fill="#000" stroke="none" stroke-width="0" />
<rect x="469.10" y="323.58" width="4.35" height="14.52" fill="#747474" stroke="#333" stroke-width="0.8" />
<line x1="476.42" y1="322.29" x2="476.42" y2="324.67" stroke="#7a7a7a" stroke-width="0.8" />
<line x1="475.62" y1="322.29" x2="477.22" y2="322.29" stroke="#7a7a7a" stroke-width="0.8" />
<rect x="474.25" y="325.07" width="4.35" height="13.03" fill="url(#hatch)" stroke="#000" stroke-width="0.8" />
<rect x="502.10" y="323.58" width="4.35" height="14.52" fill="#747474" stroke="#333" stroke-width="0.8" />
<line x1="509.42" y1="319.45" x2="509.42" y2="320.35" stroke="#7a7a7a" stroke-width="0.8" />
<line x1="508.62" y1="319.45" x2="510.22" y2="319.45" stroke="#7a7a7a" stroke-width="0.8" />
<rect x="507.25" y="320.75" width="4.35" height="17.35" fill="url(#hatch)" stroke="#000" stroke-width="0.8" />
<line x1="317.80" y1="338.10" x2="317.80" y2="348.10" stroke="#333" stroke-width="0.8" />
<line x1="350.80" y1="338.10" x2="350.80" y2="348.10" stroke="#333" stroke-width="0.8" />
<line x1="383.80" y1="338.10" x2="383.80" y2="348.10" stroke="#333" stroke-width="0.8" />
<line x1="416.80" y1="338.10" x2="416.80" y2="348.10" stroke="#333" stroke-width="0.8" />
<line x1="449.80" y1="338.10" x2="449.80" y2="348.10" stroke="#333" stroke-width="0.8" />
<line x1="482.80" y1="338.10" x2="482.80" y2="348.10" stroke="#333" stroke-width="0.8" />
<rect x="284.50" y="218.75" width="231.70" height="119.35" fill="none" stroke="#000" stroke-width="1.3" />
<text x="278.80" y="341.70" font-size="6.6" text-anchor="middle" font-weight="bold" font-style="normal" fill="#000" stroke="#000" stroke-width="0.22" >0</text>
<text x="278.80" y="326.78" font-size="6.6" text-anchor="middle" font-weight="bold" font-style="normal" fill="#888" stroke="#888" stroke-width="0.22" >1</text>
<text x="278.80" y="311.86" font-size="6.6" text-anchor="middle" font-weight="bold" font-style="normal" fill="#888" stroke="#888" stroke-width="0.22" >2</text>
<text x="278.80" y="296.94" font-size="6.6" text-anchor="middle" font-weight="bold" font-style="normal" fill="#888" stroke="#888" stroke-width="0.22" >3</text>
<text x="278.80" y="282.03" font-size="6.6" text-anchor="middle" font-weight="bold" font-style="normal" fill="#888" stroke="#888" stroke-width="0.22" >4</text>
<text x="278.80" y="267.11" font-size="6.6" text-anchor="middle" font-weight="bold" font-style="normal" fill="#000" stroke="#000" stroke-width="0.22" >5</text>
<text x="278.80" y="252.19" font-size="6.6" text-anchor="middle" font-weight="bold" font-style="normal" fill="#000" stroke="#000" stroke-width="0.22" >6</text>
<text x="278.80" y="237.27" font-size="6.6" text-anchor="middle" font-weight="bold" font-style="normal" fill="#000" stroke="#000" stroke-width="0.22" >7</text>
<text x="278.80" y="222.35" font-size="6.6" text-anchor="middle" font-weight="bold" font-style="normal" fill="#000" stroke="#000" stroke-width="0.22" >8</text>
<rect x="316.40" y="219.80" width="127.10" height="32.70" fill="#fff" stroke="#666" stroke-width="1.0" />
<rect x="320.30" y="223.00" width="10.20" height="9.30" fill="#fff" stroke="#777" stroke-width="1.0" />
<rect x="320.30" y="235.40" width="10.20" height="9.30" fill="#000" stroke="#000" stroke-width="1.0" />
<rect x="381.60" y="222.80" width="10.20" height="9.30" fill="#747474" stroke="#000" stroke-width="1.0" />
<rect x="381.60" y="235.10" width="10.20" height="9.30" fill="url(#hatch2)" stroke="#000" stroke-width="1.0" />
<text x="333.50" y="230.40" font-size="7.13" text-anchor="start" font-weight="normal" font-style="normal" fill="#000" stroke="#000" stroke-width="0.22"  textLength="32.3" lengthAdjust="spacingAndGlyphs">CD41+c-kit-</text>
<text x="333.50" y="243.00" font-size="7.13" text-anchor="start" font-weight="normal" font-style="normal" fill="#000" stroke="#000" stroke-width="0.22"  textLength="32.3" lengthAdjust="spacingAndGlyphs">CD41+c-kit-</text>
<text x="336.00" y="250.30" font-size="7.13" text-anchor="start" font-weight="normal" font-style="normal" fill="#000" stroke="#000" stroke-width="0.22"  textLength="44.0" lengthAdjust="spacingAndGlyphs">+ Cdx4 induction</text>
<text x="394.00" y="230.30" font-size="7.13" text-anchor="start" font-weight="normal" font-style="normal" fill="#000" stroke="#000" stroke-width="0.22"  textLength="32.8" lengthAdjust="spacingAndGlyphs">CD41+c-kit+</text>
<text x="394.00" y="242.40" font-size="7.13" text-anchor="start" font-weight="normal" font-style="normal" fill="#000" stroke="#000" stroke-width="0.22"  textLength="32.8" lengthAdjust="spacingAndGlyphs">CD41+c-kit+</text>
<text x="398.10" y="249.50" font-size="7.13" text-anchor="start" font-weight="normal" font-style="normal" fill="#000" stroke="#000" stroke-width="0.22"  textLength="44.4" lengthAdjust="spacingAndGlyphs">+ Cdx4 induction</text>
<text x="487.30" y="230.20" font-size="8.6" text-anchor="start" font-weight="normal" font-style="italic" fill="#000" stroke="#000" stroke-width="0.4" >iCdx4</text>
<text x="303.80" y="348.00" font-size="6.4" text-anchor="middle" font-weight="bold" font-style="italic" fill="#000" stroke="#000" stroke-width="0.22" >scl</text>
<text x="334.60" y="348.00" font-size="6.4" text-anchor="middle" font-weight="bold" font-style="italic" fill="#000" stroke="#000" stroke-width="0.22" >runx1</text>
<text x="369.20" y="348.00" font-size="6.4" text-anchor="middle" font-weight="bold" font-style="italic" fill="#000" stroke="#000" stroke-width="0.22" >LMO2</text>
<text x="401.10" y="348.00" font-size="6.4" text-anchor="middle" font-weight="bold" font-style="italic" fill="#000" stroke="#000" stroke-width="0.22" >Gata-1</text>
<text x="432.20" y="348.00" font-size="6.4" text-anchor="middle" font-weight="bold" font-style="italic" fill="#000" stroke="#000" stroke-width="0.22" >Gata-2</text>
<text x="467.10" y="348.00" font-size="6.4" text-anchor="middle" font-weight="bold" font-style="italic" fill="#000" stroke="#000" stroke-width="0.22" >Gata-3</text>
<text x="500.40" y="348.00" font-size="6.4" text-anchor="middle" font-weight="bold" font-style="italic" fill="#000" stroke="#000" stroke-width="0.22" >PU.1</text>
<text transform="translate(278.50,291.20) rotate(-90)" x="0" y="0" font-size="6.6" text-anchor="middle" font-weight="normal" fill="#1a1a1a" stroke="#1a1a1a" stroke-width="0.22" >Relative gene expression</text>
<text x="327.30" y="308.00" font-size="7.2" text-anchor="middle" font-weight="normal" font-style="normal" fill="#000" stroke="#000" stroke-width="0.22"  textLength="11.68" lengthAdjust="spacingAndGlyphs">0.05</text>
<path d="M321.40,313.40 Q321.40,311.20 322.40,311.20 L329.10,311.20 Q330.10,311.20 330.10,313.40" stroke="#000" stroke-width="1.0" fill="none" />
<text x="458.30" y="312.70" font-size="7.2" text-anchor="middle" font-weight="normal" font-style="normal" fill="#000" stroke="#000" stroke-width="0.22"  textLength="11.68" lengthAdjust="spacingAndGlyphs">0.07</text>
<path d="M453.00,317.90 Q453.00,315.40 454.00,315.40 L460.60,315.40 Q461.60,315.40 461.60,317.90" stroke="#000" stroke-width="1.0" fill="none" />
<text x="493.30" y="334.50" font-size="6.8" text-anchor="middle" font-weight="normal" font-style="normal" fill="#000" stroke="#000" stroke-width="0.22" >ND</text>
</svg></body></html>
